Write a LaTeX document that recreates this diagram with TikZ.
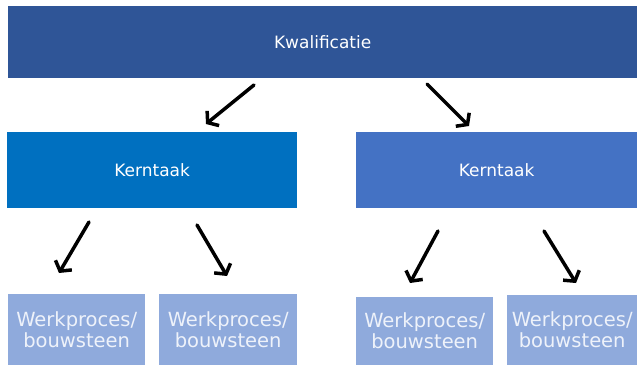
\documentclass[tikz,border=0pt]{standalone}
\usepackage{fontspec}
\setmainfont{DejaVu Sans}
\usetikzlibrary{arrows.meta}
\definecolor{topblue}{HTML}{2F5597}
\definecolor{kernA}{HTML}{0070C0}
\definecolor{kernB}{HTML}{4472C4}
\definecolor{werk}{HTML}{8FAADC}
\definecolor{werktext}{HTML}{EEF2FA}
\tikzset{
  box/.style={draw=none, inner sep=0pt, anchor=north west, align=center},
  topbox/.style={box, fill=topblue, text=white, font=\fontsize{17}{20}\selectfont},
  kernbox/.style={box, text=white, font=\fontsize{17}{20}\selectfont},
  werkbox/.style={box, fill=werk, text=werktext, font=\fontsize{19.5}{21}\selectfont},
  arr/.style={line width=3.5pt, black, -{Straight Barb[length=7pt,width=19pt,line width=3.5pt]}, line cap=round}
}
\begin{document}
\begin{tikzpicture}[x=1pt,y=-1pt]
\useasboundingbox (0,0) rectangle (637,365);
\fill[white] (0,0) rectangle (637,365);
\node[topbox, minimum width=629pt, minimum height=72pt] (q) at (8,6) {Kwalificatie};
\node[kernbox, fill=kernA, minimum width=290pt, minimum height=76pt] (k1) at (7,132) {Kerntaak};
\node[kernbox, fill=kernB, minimum width=281pt, minimum height=76pt] (k2) at (356,132) {Kerntaak};
\node[werkbox, minimum width=137pt, minimum height=71pt] (w1) at (8,294) {Werkproces/\\bouwsteen};
\node[werkbox, minimum width=138pt, minimum height=71pt] (w2) at (159,294) {Werkproces/\\bouwsteen};
\node[werkbox, minimum width=137pt, minimum height=68pt] (w3) at (356,297) {Werkproces/\\bouwsteen};
\node[werkbox, minimum width=130pt, minimum height=70pt] (w4) at (507,295) {Werkproces/\\bouwsteen};
\coordinate (a1s) at (254,85);  \coordinate (a1e) at (206,124);
\coordinate (a2s) at (427,84);  \coordinate (a2e) at (469,126);
\coordinate (b1s) at (89,222);  \coordinate (b1e) at (59,273);
\coordinate (b2s) at (197,225); \coordinate (b2e) at (227,276);
\coordinate (b3s) at (438,231); \coordinate (b3e) at (410,283);
\coordinate (b4s) at (544,231); \coordinate (b4e) at (576,283);
\draw[arr] (a1s) -- (a1e);
\draw[arr] (a2s) -- (a2e);
\draw[arr] (b1s) -- (b1e);
\draw[arr] (b2s) -- (b2e);
\draw[arr] (b3s) -- (b3e);
\draw[arr] (b4s) -- (b4e);
\end{tikzpicture}
\end{document}
